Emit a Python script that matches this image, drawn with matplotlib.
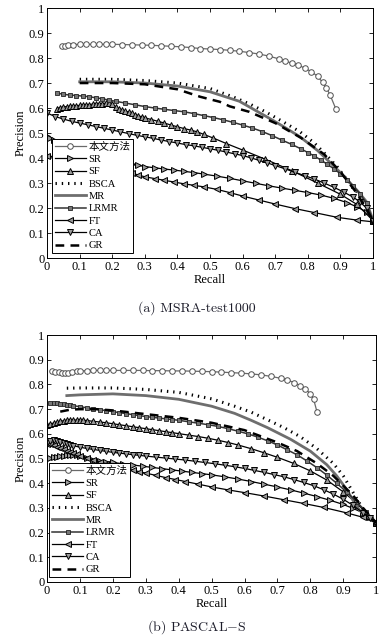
import matplotlib
matplotlib.use("Agg")
import matplotlib.pyplot as plt

plt.rcParams['font.family'] = ['Liberation Serif', 'Noto Sans CJK SC', 'DejaVu Sans']
plt.rcParams['mathtext.fontset'] = 'cm'

labels = ['本文方法', 'SR', 'SF', 'BSCA', 'MR', 'LRMR', 'FT', 'CA', 'GR']
xticks = [0, 0.1, 0.2, 0.3, 0.4, 0.5, 0.6, 0.7, 0.8, 0.9, 1]
yticks = [0, 0.1, 0.2, 0.3, 0.4, 0.5, 0.6, 0.7, 0.8, 0.9, 1]

# ---------------- (a) MSRA-test1000 ----------------
a_our_x = [0.045, 0.055, 0.065, 0.08, 0.1, 0.12, 0.14, 0.16, 0.18, 0.2, 0.23, 0.26, 0.29, 0.32, 0.35, 0.38,
           0.41, 0.44, 0.47, 0.5, 0.53, 0.56, 0.59, 0.62, 0.65, 0.68, 0.71, 0.73, 0.75, 0.77, 0.79, 0.81,
           0.83, 0.845, 0.857, 0.868, 0.886]
a_our_y = [0.848, 0.850, 0.852, 0.854, 0.855, 0.855, 0.855, 0.855, 0.855, 0.855, 0.854, 0.853, 0.852, 0.851,
           0.849, 0.847, 0.845, 0.842, 0.838, 0.836, 0.834, 0.831, 0.827, 0.822, 0.816, 0.808, 0.797, 0.788,
           0.780, 0.772, 0.760, 0.746, 0.727, 0.703, 0.680, 0.653, 0.596]

a_sr_x = [0, 0.01, 0.02, 0.03, 0.04, 0.05, 0.06, 0.07, 0.08, 0.1, 0.12, 0.14, 0.16, 0.18, 0.2, 0.22, 0.24,
          0.26, 0.28, 0.3, 0.33, 0.36, 0.39, 0.42, 0.45, 0.48, 0.52, 0.56, 0.6, 0.64, 0.68, 0.72, 0.76, 0.8,
          0.84, 0.88, 0.92, 0.95, 0.98, 1.0]
a_sr_y = [0.490, 0.482, 0.473, 0.465, 0.457, 0.450, 0.443, 0.437, 0.431, 0.421, 0.413, 0.406, 0.400, 0.395,
          0.390, 0.385, 0.380, 0.376, 0.371, 0.366, 0.361, 0.356, 0.352, 0.347, 0.342, 0.336, 0.328, 0.319,
          0.309, 0.299, 0.289, 0.280, 0.271, 0.262, 0.252, 0.239, 0.222, 0.205, 0.185, 0.150]

a_sf_x = [0.03, 0.04, 0.05, 0.06, 0.07, 0.08, 0.09, 0.1, 0.11, 0.12, 0.13, 0.14, 0.15, 0.16, 0.17, 0.18, 0.19,
          0.2, 0.21, 0.22, 0.23, 0.24, 0.25, 0.26, 0.27, 0.28, 0.29, 0.3, 0.32, 0.34, 0.36, 0.38, 0.4, 0.42,
          0.44, 0.46, 0.48, 0.51, 0.55, 0.6, 0.67, 0.75, 0.83, 0.9, 0.95, 1.0]
a_sf_y = [0.598, 0.602, 0.604, 0.606, 0.607, 0.608, 0.609, 0.611, 0.612, 0.613, 0.614, 0.616, 0.617, 0.617,
          0.618, 0.620, 0.622, 0.615, 0.604, 0.597, 0.592, 0.588, 0.584, 0.579, 0.574, 0.569, 0.565, 0.561,
          0.554, 0.547, 0.540, 0.532, 0.525, 0.518, 0.512, 0.505, 0.495, 0.480, 0.458, 0.432, 0.395, 0.350,
          0.300, 0.255, 0.215, 0.150]

a_bsca_x = [0.1, 0.2, 0.3, 0.4, 0.5, 0.57, 0.62, 0.67, 0.72, 0.776, 0.82, 0.858, 0.89, 0.91, 0.935, 0.96, 0.98, 1.0]
a_bsca_y = [0.715, 0.715, 0.71, 0.70, 0.678, 0.645, 0.617, 0.585, 0.548, 0.505, 0.46, 0.41, 0.365, 0.33, 0.29,
            0.25, 0.205, 0.15]

a_mr_x = [0.1, 0.2, 0.3, 0.4, 0.5, 0.59, 0.674, 0.72, 0.776, 0.83, 0.878, 0.905, 0.93, 0.955, 0.98, 1.0]
a_mr_y = [0.705, 0.705, 0.70, 0.688, 0.665, 0.627, 0.565, 0.53, 0.485, 0.43, 0.37, 0.335, 0.30, 0.265, 0.225, 0.15]

a_lrmr_x = [0.03, 0.05, 0.07, 0.09, 0.11, 0.13, 0.15, 0.17, 0.19, 0.21, 0.24, 0.27, 0.3, 0.33, 0.36, 0.39, 0.42,
            0.45, 0.48, 0.51, 0.54, 0.57, 0.6, 0.63, 0.66, 0.69, 0.72, 0.75, 0.78, 0.8, 0.82, 0.84, 0.86, 0.88,
            0.9, 0.92, 0.94, 0.96, 0.98, 1.0]
a_lrmr_y = [0.660, 0.655, 0.652, 0.650, 0.648, 0.645, 0.641, 0.637, 0.632, 0.627, 0.620, 0.613, 0.606, 0.600,
            0.595, 0.590, 0.585, 0.578, 0.570, 0.562, 0.553, 0.543, 0.532, 0.520, 0.506, 0.490, 0.472, 0.455,
            0.436, 0.422, 0.408, 0.392, 0.375, 0.357, 0.337, 0.313, 0.287, 0.257, 0.220, 0.150]

a_ft_x = [0, 0.02, 0.04, 0.06, 0.08, 0.1, 0.12, 0.14, 0.16, 0.18, 0.2, 0.22, 0.24, 0.26, 0.28, 0.3, 0.33, 0.36,
          0.39, 0.42, 0.45, 0.48, 0.52, 0.56, 0.6, 0.65, 0.7, 0.76, 0.82, 0.89, 0.95, 1.0]
a_ft_y = [0.410, 0.405, 0.400, 0.395, 0.390, 0.385, 0.380, 0.375, 0.370, 0.365, 0.360, 0.354, 0.347, 0.340,
          0.332, 0.325, 0.318, 0.311, 0.304, 0.297, 0.291, 0.285, 0.275, 0.262, 0.248, 0.232, 0.216, 0.198,
          0.182, 0.163, 0.152, 0.145]

a_ca_x = [0, 0.025, 0.05, 0.075, 0.1, 0.125, 0.15, 0.175, 0.2, 0.225, 0.25, 0.275, 0.3, 0.325, 0.35, 0.375, 0.4,
          0.425, 0.45, 0.475, 0.5, 0.525, 0.55, 0.575, 0.6, 0.625, 0.65, 0.675, 0.7, 0.73, 0.76, 0.79, 0.82,
          0.85, 0.88, 0.91, 0.94, 0.96, 0.98, 1.0]
a_ca_y = [0.580, 0.566, 0.556, 0.547, 0.540, 0.533, 0.526, 0.519, 0.512, 0.505, 0.498, 0.491, 0.485, 0.479,
          0.472, 0.466, 0.460, 0.454, 0.449, 0.443, 0.437, 0.431, 0.424, 0.417, 0.410, 0.401, 0.391, 0.381,
          0.370, 0.357, 0.343, 0.330, 0.316, 0.300, 0.283, 0.264, 0.243, 0.224, 0.200, 0.150]

a_gr_x = [0.1, 0.2, 0.3, 0.4, 0.47, 0.53, 0.56, 0.62, 0.7, 0.78, 0.85, 0.9, 0.95, 1.0]
a_gr_y = [0.70, 0.70, 0.695, 0.675, 0.645, 0.625, 0.607, 0.585, 0.54, 0.48, 0.415, 0.345, 0.26, 0.15]

# ---------------- (b) PASCAL-S ----------------
b_our_x = [0.015, 0.025, 0.035, 0.045, 0.055, 0.065, 0.075, 0.09, 0.1, 0.12, 0.14, 0.16, 0.18, 0.2, 0.23, 0.26,
           0.29, 0.32, 0.35, 0.38, 0.41, 0.44, 0.47, 0.5, 0.53, 0.56, 0.59, 0.62, 0.65, 0.68, 0.71, 0.73, 0.75,
           0.77, 0.785, 0.8, 0.81, 0.82]
b_our_y = [0.855, 0.852, 0.850, 0.848, 0.847, 0.848, 0.850, 0.853, 0.855, 0.856, 0.857, 0.857, 0.857, 0.857,
           0.857, 0.857, 0.857, 0.856, 0.856, 0.855, 0.855, 0.854, 0.853, 0.852, 0.850, 0.848, 0.846, 0.843,
           0.839, 0.833, 0.825, 0.818, 0.808, 0.795, 0.782, 0.762, 0.740, 0.690]

b_sr_x = [0, 0.01, 0.02, 0.03, 0.04, 0.05, 0.06, 0.07, 0.08, 0.09, 0.1, 0.12, 0.14, 0.16, 0.18, 0.2, 0.23, 0.26,
          0.29, 0.32, 0.35, 0.38, 0.41, 0.44, 0.47, 0.5, 0.54, 0.58, 0.62, 0.66, 0.7, 0.74, 0.78, 0.82, 0.86,
          0.9, 0.93, 0.96, 0.98, 1.0]
b_sr_y = [0.50, 0.502, 0.505, 0.508, 0.51, 0.512, 0.514, 0.515, 0.515, 0.513, 0.51, 0.503, 0.496, 0.49, 0.487,
          0.484, 0.479, 0.474, 0.469, 0.464, 0.459, 0.454, 0.449, 0.444, 0.439, 0.434, 0.426, 0.417, 0.407,
          0.396, 0.385, 0.373, 0.36, 0.346, 0.331, 0.314, 0.298, 0.28, 0.265, 0.24]

b_sf_x = [0, 0.01, 0.02, 0.03, 0.04, 0.05, 0.06, 0.07, 0.08, 0.09, 0.1, 0.11, 0.12, 0.14, 0.16, 0.18, 0.2, 0.22,
          0.24, 0.26, 0.28, 0.3, 0.32, 0.34, 0.36, 0.38, 0.4, 0.43, 0.46, 0.49, 0.52, 0.55, 0.58, 0.62, 0.66,
          0.7, 0.75, 0.8, 0.85, 0.9, 0.94, 0.97, 1.0]
b_sf_y = [0.635, 0.64, 0.644, 0.648, 0.651, 0.653, 0.655, 0.656, 0.656, 0.656, 0.656, 0.655, 0.654, 0.651,
          0.648, 0.645, 0.641, 0.637, 0.633, 0.629, 0.625, 0.621, 0.617, 0.613, 0.609, 0.605, 0.601, 0.595,
          0.589, 0.582, 0.574, 0.565, 0.555, 0.54, 0.523, 0.505, 0.48, 0.45, 0.413, 0.365, 0.32, 0.28, 0.24]

b_bsca_x = [0.06, 0.1, 0.2, 0.3, 0.4, 0.5, 0.57, 0.62, 0.67, 0.72, 0.77, 0.82, 0.87, 0.9, 0.92, 0.94, 0.96, 0.98, 1.0]
b_bsca_y = [0.785, 0.786, 0.786, 0.78, 0.768, 0.742, 0.712, 0.688, 0.657, 0.625, 0.588, 0.54, 0.48, 0.43,
            0.385, 0.34, 0.295, 0.265, 0.24]

b_mr_x = [0.06, 0.1, 0.2, 0.3, 0.4, 0.5, 0.57, 0.62, 0.67, 0.74, 0.8, 0.85, 0.88, 0.91, 0.93, 0.95, 0.975, 1.0]
b_mr_y = [0.755, 0.758, 0.762, 0.755, 0.74, 0.712, 0.683, 0.655, 0.625, 0.578, 0.53, 0.475, 0.43, 0.375, 0.33,
          0.29, 0.26, 0.24]

b_lrmr_x = [0.01, 0.02, 0.03, 0.04, 0.05, 0.06, 0.07, 0.08, 0.1, 0.12, 0.14, 0.16, 0.18, 0.2, 0.22, 0.24, 0.26,
            0.28, 0.3, 0.32, 0.34, 0.36, 0.38, 0.4, 0.43, 0.46, 0.49, 0.52, 0.55, 0.58, 0.61, 0.64, 0.67, 0.7,
            0.73, 0.76, 0.79, 0.82, 0.85, 0.88, 0.91, 0.94, 0.97, 1.0]
b_lrmr_y = [0.725, 0.725, 0.724, 0.722, 0.72, 0.718, 0.716, 0.714, 0.71, 0.706, 0.702, 0.698, 0.694, 0.69,
            0.686, 0.682, 0.678, 0.674, 0.67, 0.667, 0.664, 0.661, 0.658, 0.655, 0.649, 0.643, 0.637, 0.63,
            0.621, 0.611, 0.60, 0.587, 0.572, 0.555, 0.535, 0.515, 0.49, 0.463, 0.433, 0.40, 0.365, 0.325,
            0.285, 0.24]

b_ft_x = [0, 0.01, 0.02, 0.03, 0.04, 0.05, 0.06, 0.07, 0.08, 0.09, 0.1, 0.12, 0.14, 0.16, 0.18, 0.2, 0.22, 0.24,
          0.26, 0.28, 0.3, 0.33, 0.36, 0.39, 0.42, 0.46, 0.5, 0.55, 0.6, 0.66, 0.72, 0.78, 0.84, 0.91, 0.96, 1.0]
b_ft_y = [0.56, 0.557, 0.553, 0.548, 0.543, 0.537, 0.532, 0.527, 0.522, 0.517, 0.512, 0.503, 0.495, 0.487,
          0.479, 0.471, 0.465, 0.459, 0.453, 0.447, 0.441, 0.432, 0.423, 0.415, 0.407, 0.396, 0.385, 0.373,
          0.362, 0.348, 0.333, 0.318, 0.302, 0.28, 0.262, 0.24]

b_ca_x = [0, 0.01, 0.02, 0.03, 0.04, 0.05, 0.06, 0.07, 0.08, 0.1, 0.12, 0.14, 0.16, 0.18, 0.2, 0.22, 0.24, 0.26,
          0.28, 0.3, 0.33, 0.36, 0.39, 0.42, 0.45, 0.48, 0.51, 0.54, 0.57, 0.6, 0.63, 0.66, 0.69, 0.72, 0.75,
          0.78, 0.81, 0.84, 0.87, 0.9, 0.93, 0.96, 0.98, 1.0]
b_ca_y = [0.565, 0.572, 0.575, 0.573, 0.569, 0.564, 0.560, 0.556, 0.552, 0.546, 0.541, 0.537, 0.533, 0.529,
          0.525, 0.522, 0.519, 0.516, 0.513, 0.51, 0.506, 0.502, 0.498, 0.494, 0.489, 0.484, 0.479, 0.473,
          0.467, 0.46, 0.452, 0.444, 0.435, 0.426, 0.415, 0.403, 0.39, 0.374, 0.356, 0.335, 0.31, 0.28, 0.26, 0.24]

b_gr_x = [0.04, 0.07, 0.1, 0.15, 0.2, 0.3, 0.4, 0.5, 0.6, 0.7, 0.76, 0.82, 0.87, 0.9, 0.93, 0.96, 1.0]
b_gr_y = [0.69, 0.698, 0.70, 0.70, 0.695, 0.68, 0.665, 0.645, 0.615, 0.565, 0.53, 0.48, 0.43, 0.39, 0.35, 0.30, 0.24]


def draw(ax, d, legend_anchor):
    tri = dict(color='black', lw=0.9, markersize=4.2, markerfacecolor='#9a9a9a',
               markeredgecolor='black', markeredgewidth=0.7)
    ax.plot(d['our'][0], d['our'][1], '-o', color='#6a6a6a', lw=0.9, markersize=4,
            markerfacecolor='white', markeredgecolor='#505050', markeredgewidth=0.7, label=labels[0])
    ax.plot(d['sr'][0], d['sr'][1], '->', label=labels[1], **tri)
    ax.plot(d['sf'][0], d['sf'][1], '-^', label=labels[2], **tri)
    ax.plot(d['bsca'][0], d['bsca'][1], color='black', lw=2.2, linestyle=(0, (0.45, 1.6)), label=labels[3])
    ax.plot(d['mr'][0], d['mr'][1], color='#6e6e6e', lw=2.0, label=labels[4])
    ax.plot(d['lrmr'][0], d['lrmr'][1], '-s', color='#333333', lw=1.1, markersize=2.6,
            markerfacecolor='#777777', markeredgecolor='#222222', markeredgewidth=0.6, label=labels[5])
    ax.plot(d['ft'][0], d['ft'][1], '-<', label=labels[6], **tri)
    ax.plot(d['ca'][0], d['ca'][1], '-v', label=labels[7], **tri)
    ax.plot(d['gr'][0], d['gr'][1], color='black', lw=1.8, linestyle=(0, (3.5, 2.5)), label=labels[8])

    ax.set_xlim(0, 1)
    ax.set_ylim(0, 1)
    ax.set_xticks(xticks)
    ax.set_yticks(yticks)
    ax.set_xticklabels(['0', '0.1', '0.2', '0.3', '0.4', '0.5', '0.6', '0.7', '0.8', '0.9', '1'])
    ax.set_yticklabels(['0', '0.1', '0.2', '0.3', '0.4', '0.5', '0.6', '0.7', '0.8', '0.9', '1'])
    ax.tick_params(direction='in', length=3, width=0.6, top=True, right=True, labelsize=9, pad=2)
    for s in ax.spines.values():
        s.set_linewidth(0.7)
    ax.set_xlabel('Recall', fontsize=9, labelpad=1)
    ax.set_ylabel('Precision', fontsize=9, labelpad=1)
    leg = ax.legend(loc='lower left', bbox_to_anchor=legend_anchor, borderaxespad=0,
                    fontsize=7.6, handlelength=3.0, handletextpad=0.2, labelspacing=0.28,
                    borderpad=0.25, fancybox=False, framealpha=1, edgecolor='black')
    leg.get_frame().set_linewidth(0.7)


fig = plt.figure(figsize=(3.89, 6.42), dpi=100)
ax_a = fig.add_axes([0.121, 0.598, 0.838, 0.3895])
ax_b = fig.add_axes([0.121, 0.0935, 0.846, 0.3845])

draw(ax_a, {'our': (a_our_x, a_our_y), 'sr': (a_sr_x, a_sr_y), 'sf': (a_sf_x, a_sf_y),
            'bsca': (a_bsca_x, a_bsca_y), 'mr': (a_mr_x, a_mr_y), 'lrmr': (a_lrmr_x, a_lrmr_y),
            'ft': (a_ft_x, a_ft_y), 'ca': (a_ca_x, a_ca_y), 'gr': (a_gr_x, a_gr_y)}, (0.015, 0.02))
draw(ax_b, {'our': (b_our_x, b_our_y), 'sr': (b_sr_x, b_sr_y), 'sf': (b_sf_x, b_sf_y),
            'bsca': (b_bsca_x, b_bsca_y), 'mr': (b_mr_x, b_mr_y), 'lrmr': (b_lrmr_x, b_lrmr_y),
            'ft': (b_ft_x, b_ft_y), 'ca': (b_ca_x, b_ca_y), 'gr': (b_gr_x, b_gr_y)}, (0.006, 0.02))

fig.text(0.505, 0.520, '(a) MSRA-test1000', ha='center', va='center', fontsize=10,
         family='cmr10', color='#1c1c2a')
fig.text(0.505, 0.0234, r'(b) PASCAL$-$S', ha='center', va='center', fontsize=10,
         family='cmr10', color='#1c1c2a')

fig.savefig('out.png', dpi=100)
